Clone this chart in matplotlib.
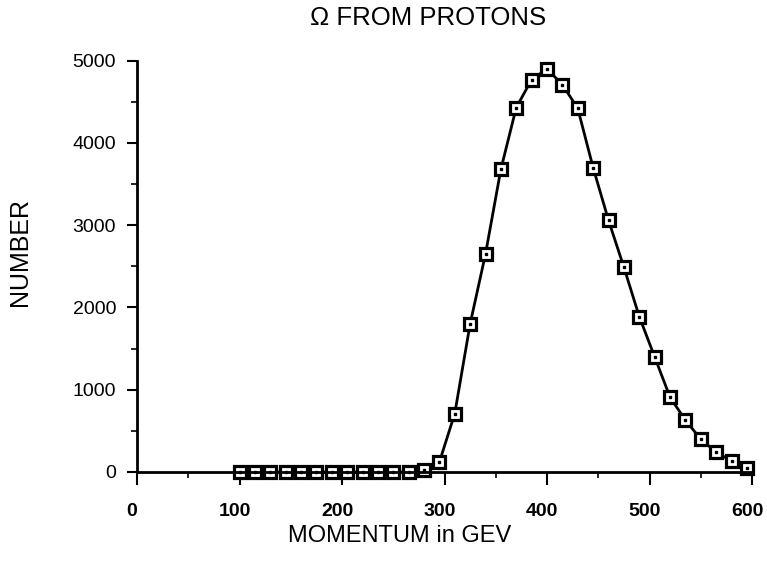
import numpy as np
import matplotlib
matplotlib.use("Agg")
import matplotlib.pyplot as plt
from matplotlib.ticker import MultipleLocator
from matplotlib.transforms import ScaledTranslation

plt.rcParams['font.family'] = ['Liberation Sans', 'DejaVu Sans']

momentum = [100, 115, 130, 145, 160, 175, 190, 205, 220, 235, 250, 265,
            280, 295, 310, 325, 340, 355, 370, 385, 400, 415, 430, 445,
            460, 475, 490, 505, 520, 535, 550, 565, 580, 595]
number = [0, 0, 0, 0, 0, 0, 0, 0, 0, 0, 0, 0,
          25, 120, 710, 1800, 2650, 3680, 4430, 4770, 4900, 4710, 4420, 3700,
          3060, 2490, 1890, 1400, 910, 630, 400, 240, 135, 45]

x_ticks = [0, 100, 200, 300, 400, 500, 600]
y_ticks = [0, 1000, 2000, 3000, 4000, 5000]

W, H = 767, 561
fig = plt.figure(figsize=(W / 100, H / 100), dpi=100)
ax = fig.add_axes([137 / W, 89 / H, 615 / W, 411.3 / H])

ax.plot(momentum, number, color='black', lw=2, zorder=2,
        marker='s', ms=9, mew=2.3, mfc='white', mec='black', clip_on=False)
ax.plot(momentum, number, ls='none', marker='s', ms=1.6, color='black',
        zorder=3, clip_on=False)

ax.set_xlim(0, 600)
ax.set_ylim(0, 5000)
ax.set_xticks(x_ticks)
ax.set_yticks(y_ticks)
ax.xaxis.set_minor_locator(MultipleLocator(50))
ax.yaxis.set_minor_locator(MultipleLocator(500))

for side in ['top', 'right']:
    ax.spines[side].set_visible(False)
for side in ['left', 'bottom']:
    ax.spines[side].set_linewidth(2)

ax.tick_params(axis='x', which='major', direction='out', length=9, width=1.5,
               pad=13, labelsize=14)
ax.tick_params(axis='x', which='minor', direction='out', length=4, width=1.2)
ax.tick_params(axis='y', which='major', direction='out', length=7, width=1.5,
               pad=8, labelsize=14)
ax.tick_params(axis='y', which='minor', direction='out', length=4, width=1.2)

# the scanned labels sit a few pixels left of their ticks
shift = ScaledTranslation(-5 / 100, 0, fig.dpi_scale_trans)
for lab in ax.get_xticklabels():
    lab.set_fontweight('bold')
    lab.set_transform(lab.get_transform() + shift)

fig.text(428 / W, 1 - 18 / H, "\u03a9 FROM PROTONS", ha='center', va='center',
         fontsize=18.5)
fig.text(400 / W, 1 - 536 / H, "MOMENTUM in GEV", ha='center', va='center',
         fontsize=17)
fig.text(20 / W, 1 - 252 / H, "NUMBER", ha='center', va='center',
         rotation=90, fontsize=18)

fig.savefig("out.png", dpi=100)
